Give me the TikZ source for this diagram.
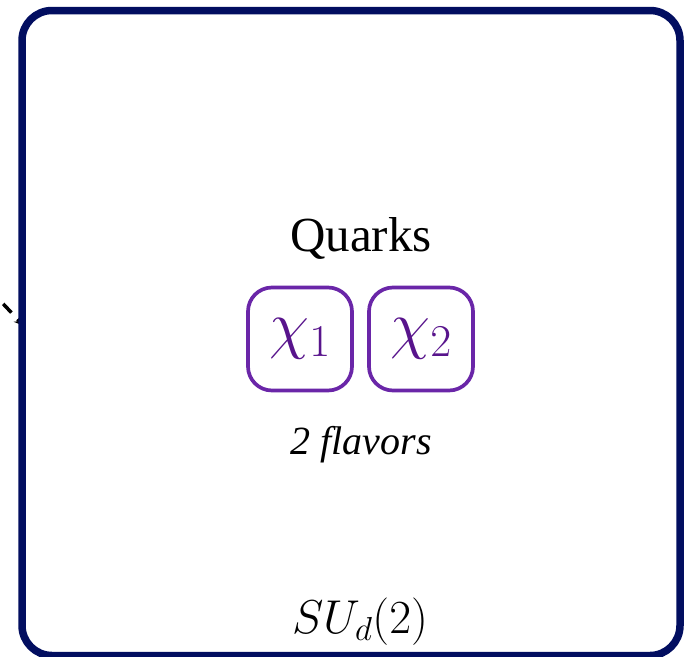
\RequirePackage{fix-cm}
\documentclass[tikz,border=0pt]{standalone}
\usepackage{fontspec}
\setmainfont{Liberation Serif}
\usetikzlibrary{arrows.meta}
\definecolor{navyline}{RGB}{2,14,96}
\definecolor{qbox}{RGB}{106,38,168}
\definecolor{qtext}{RGB}{88,20,140}
\tikzset{
  outerbox/.style={draw=navyline, line width=7.5pt, rounded corners=30pt, outer sep=0pt, inner sep=0pt},
  quarkbox/.style={draw=qbox, line width=3.7pt, rounded corners=24pt, minimum width=104pt, minimum height=103pt, inner sep=0pt, text=qtext},
  lbl/.style={anchor=base, inner sep=0pt, text=black}
}
\begin{document}
\begin{tikzpicture}[x=1pt,y=-1pt]
\useasboundingbox (0,0) rectangle (687,656);
\clip (0,0) rectangle (687,656);
\coordinate (src) at (-40,258);
\coordinate (dst) at (24,326);
\draw[black, line width=3.5pt, dash pattern=on 12pt off 9pt, -{Stealth[length=10pt,width=9pt]}] (src) -- (dst);
\node[outerbox, minimum width=658pt, minimum height=645pt, anchor=north west] (box) at (22,10.5) {};
\node[lbl] (quarks) at (361,251) {\fontsize{49}{54}\selectfont Quarks};
\node[quarkbox] (c1) at (300,339) {\fontsize{65}{70}\selectfont $\chi_1$};
\node[quarkbox] (c2) at (421,339) {\fontsize{65}{70}\selectfont $\chi_2$};
\node[lbl] (flav) at (361,454) {\fontsize{40}{44}\selectfont\itshape 2 flavors};
\node[lbl] (su) at (360,633) {\fontsize{47.5}{52}\selectfont $SU_d(2)$};
\end{tikzpicture}
\end{document}
